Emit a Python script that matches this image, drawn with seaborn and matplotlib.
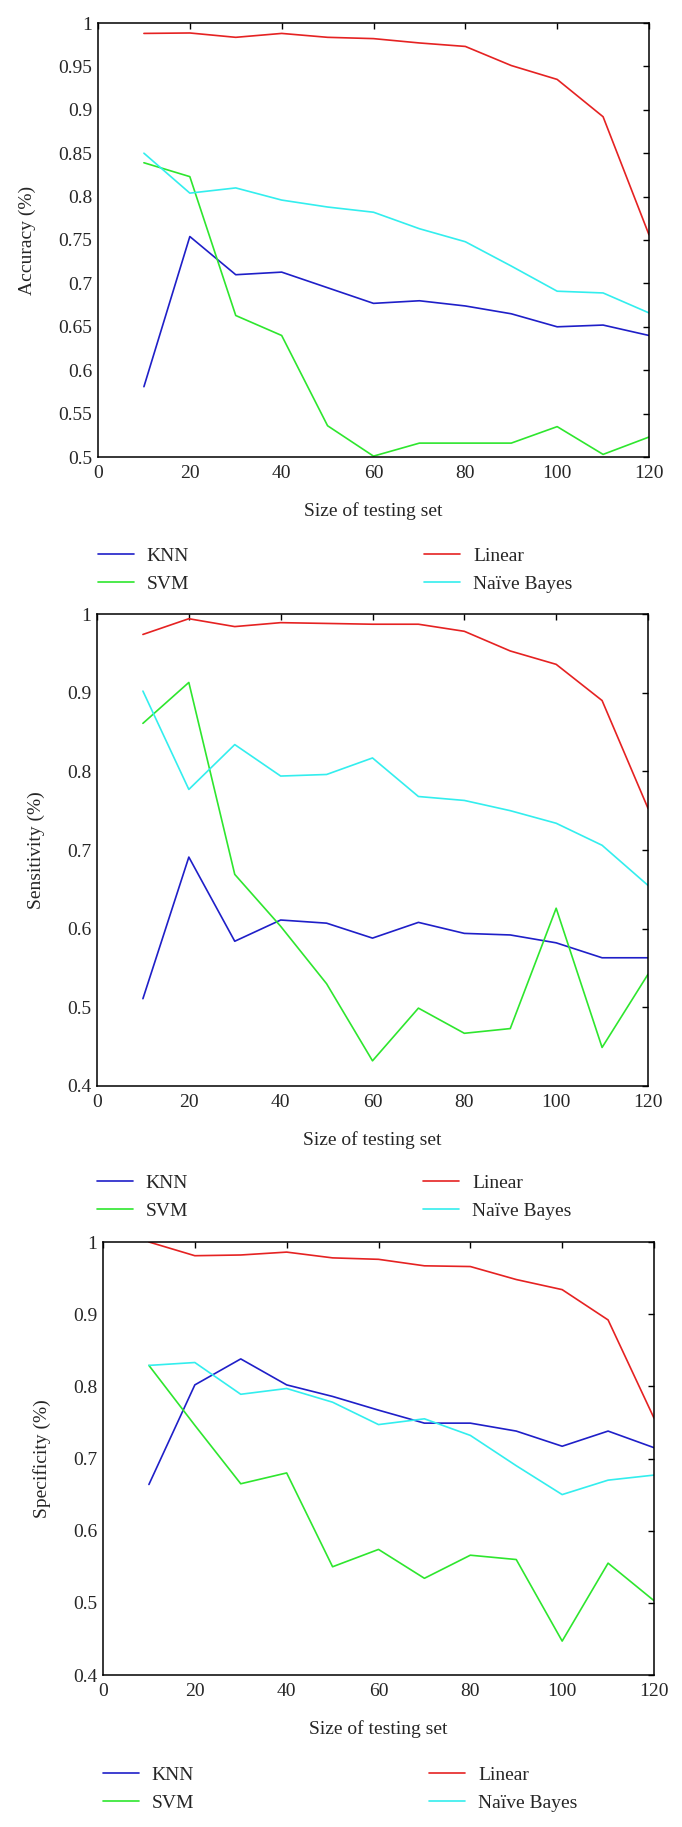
import pandas as pd
import matplotlib
matplotlib.use('Agg')
import matplotlib.pyplot as plt
import matplotlib.ticker as mticker
import seaborn as sns
import numpy as np

sizes = [10, 20, 30, 40, 50, 60, 70, 80, 90, 100, 110, 120]
models = ['KNN', 'SVM', 'Linear', 'Naïve Bayes']

# accuracy
acc_knn = [0.581, 0.754, 0.710, 0.713, 0.695, 0.677, 0.680, 0.674, 0.665, 0.650, 0.652, 0.640]
acc_svm = [0.839, 0.823, 0.663, 0.640, 0.536, 0.501, 0.516, 0.516, 0.516, 0.535, 0.503, 0.523]
acc_lin = [0.988, 0.9885, 0.9835, 0.988, 0.9835, 0.982, 0.977, 0.973, 0.951, 0.935, 0.892, 0.756]
acc_nb = [0.850, 0.804, 0.810, 0.796, 0.788, 0.782, 0.763, 0.748, 0.720, 0.691, 0.689, 0.666]

# sensitivity
sen_knn = [0.511, 0.691, 0.584, 0.611, 0.607, 0.588, 0.608, 0.594, 0.592, 0.582, 0.563, 0.563]
sen_svm = [0.861, 0.913, 0.669, 0.603, 0.530, 0.432, 0.499, 0.467, 0.473, 0.626, 0.449, 0.542]
sen_lin = [0.974, 0.994, 0.984, 0.989, 0.988, 0.987, 0.987, 0.978, 0.953, 0.936, 0.890, 0.753]
sen_nb = [0.902, 0.777, 0.834, 0.794, 0.796, 0.817, 0.768, 0.763, 0.750, 0.734, 0.706, 0.655]

# specificity
spe_knn = [0.664, 0.802, 0.838, 0.802, 0.786, 0.767, 0.749, 0.749, 0.738, 0.717, 0.738, 0.715]
spe_svm = [0.829, 0.746, 0.665, 0.680, 0.550, 0.574, 0.534, 0.566, 0.560, 0.447, 0.555, 0.503]
spe_lin = [1.000, 0.981, 0.982, 0.986, 0.978, 0.976, 0.967, 0.966, 0.948, 0.934, 0.892, 0.756]
spe_nb = [0.829, 0.833, 0.789, 0.797, 0.778, 0.747, 0.755, 0.732, 0.690, 0.650, 0.670, 0.677]

colors = {'KNN': '#1f1fc8', 'SVM': '#2ee62e', 'Linear': '#e52222', 'Naïve Bayes': '#33eeee'}


def make_df(knn, svm, lin, nb):
    rows = []
    for name, vals in zip(models, [knn, svm, lin, nb]):
        for s, v in zip(sizes, vals):
            rows.append({'size': s, 'value': v, 'model': name})
    return pd.DataFrame(rows)


sns.set_theme(style="white")
plt.rcParams['font.family'] = ['Liberation Serif', 'DejaVu Serif']

fig = plt.figure(figsize=(6.82, 18.27), dpi=100)
W, H = 682, 1827

panels = [
    # data, ylabel, ylim, ystep, axes box in px (left, top, right, bottom), legend top px
    (make_df(acc_knn, acc_svm, acc_lin, acc_nb), 'Accuracy (%)', (0.5, 1.0), 0.05, (98, 23, 649, 457), 547),
    (make_df(sen_knn, sen_svm, sen_lin, sen_nb), 'Sensitivity (%)', (0.4, 1.0), 0.1, (97, 614, 648, 1086), 1174),
    (make_df(spe_knn, spe_svm, spe_lin, spe_nb), 'Specificity (%)', (0.4, 1.0), 0.1, (103, 1242, 654, 1675), 1766),
]

for df, ylab, ylim, ystep, (l, t, r, b), leg_y in panels:
    ax = fig.add_axes([l / W, 1 - b / H, (r - l) / W, (b - t) / H])
    sns.lineplot(data=df, x='size', y='value', hue='model', hue_order=models,
                 palette=colors, linewidth=1.2, ax=ax)
    ax.set_xlim(0, 120)
    ax.set_ylim(*ylim)
    ax.set_xticks(np.arange(0, 121, 20))
    ax.set_yticks(np.arange(ylim[0], ylim[1] + 1e-9, ystep))
    ax.yaxis.set_major_formatter(mticker.FuncFormatter(lambda v, p: '%g' % round(v, 2)))
    ax.tick_params(axis='both', direction='in', length=4.5, width=1,
                   top=True, right=True, labelsize=14, color='black')
    ax.tick_params(axis='x', pad=6)
    ax.tick_params(axis='y', pad=4)
    for sp in ax.spines.values():
        sp.set_color('black')
        sp.set_linewidth(1.1)
    ax.set_xlabel('Size of testing set', fontsize=14, labelpad=14)
    ax.set_ylabel(ylab, fontsize=14, labelpad=16)
    sns.move_legend(ax, 'upper left', bbox_to_anchor=(l / W, 1 - leg_y / H),
                    bbox_transform=fig.transFigure, ncol=2, frameon=False, title=None,
                    fontsize=14, handlelength=1.85, handletextpad=0.65,
                    borderpad=0, borderaxespad=0,
                    columnspacing=12.1, labelspacing=0.55)

plt.savefig('out.png', dpi=100)
plt.close()
